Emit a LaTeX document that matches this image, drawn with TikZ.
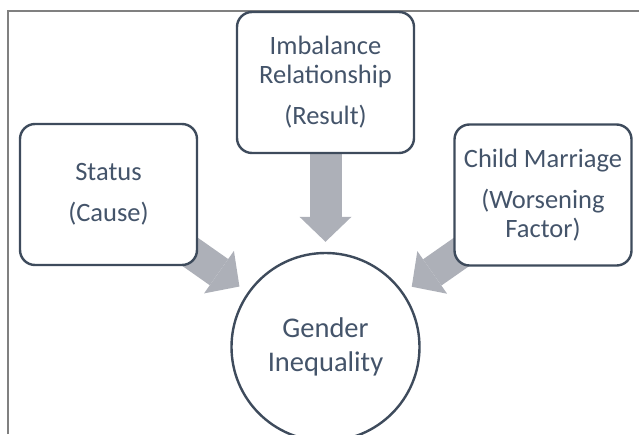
\documentclass[tikz,border=0pt]{standalone}
\usepackage{fontspec}
\setmainfont{Carlito}
\usetikzlibrary{arrows.meta,backgrounds}
\definecolor{boxline}{HTML}{3E4B5C}
\definecolor{boxtext}{HTML}{44546A}
\definecolor{flow}{HTML}{ADB0B8}
\definecolor{framegray}{HTML}{808080}
\tikzset{
  card/.style={draw=boxline, line width=2.4pt, fill=white, rounded corners=15pt,
    minimum width=177pt, minimum height=141pt, align=center, text=boxtext,
    font=\fontsize{26.5}{29}\selectfont, inner sep=0pt},
  hub/.style={circle, draw=boxline, line width=2.4pt, fill=white, minimum size=188pt,
    align=center, text=boxtext, font=\fontsize{28.5}{34}\selectfont, inner sep=0pt},
  flowarrow/.style={draw=flow, line width=32pt,
    -{Triangle[width=52pt,length=25pt,line width=0pt]}, shorten >=10pt},
}
\begin{document}
\begin{tikzpicture}[x=1pt,y=-1pt]
\useasboundingbox (0,0) rectangle (639,434);
% page frame
\draw[framegray, line width=1.2pt] (8,434) -- (8,11) -- (639,11);
% boxes
\node[card] (status) at (108.5,194.5) {Status\\[12pt](Cause)};
\node[card] (result) at (325.5,82.5) {Imbalance\\Relationship\\[12pt](Result)};
\node[card] (child) at (543,195) {Child Marriage\\[12pt](Worsening\\Factor)};
\node[hub] (gi) at (325.5,347) {Gender\\Inequality};
% block arrows behind the boxes
\begin{scope}[on background layer]
  \draw[flowarrow] (status.center) -- (gi);
  \draw[flowarrow] (result.south) -- (gi);
  \draw[flowarrow] (child.center) -- (gi);
\end{scope}
\end{tikzpicture}
\end{document}
